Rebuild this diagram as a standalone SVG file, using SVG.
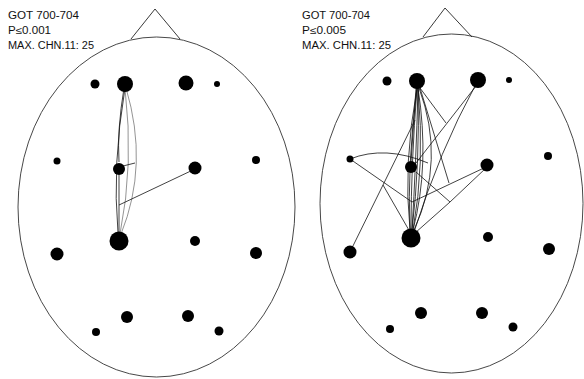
<svg xmlns="http://www.w3.org/2000/svg" width="584" height="379" viewBox="0 0 584 379">
<style>
.bg{fill:#fff}
.head{fill:none;stroke:#333;stroke-width:0.9}
.nose{fill:none;stroke:#222;stroke-width:0.9}
.lbl{font-family:"Liberation Sans",Arial,sans-serif;font-size:10px;fill:#111}
.e{fill:#000}
.c{fill:none;stroke:#111;stroke-width:0.8}
.cl{fill:none;stroke:#666;stroke-width:0.7}
</style>
<rect class="bg" width="584" height="379"/>
<!-- left map -->
<g id="head-left">
<ellipse class="head" cx="156.5" cy="207" rx="138.5" ry="170"/>
<polyline class="nose" points="131,39 155,9 180,39"/>
</g>
<g id="title-left">
<text class="lbl" x="8" y="19" textLength="71" lengthAdjust="spacingAndGlyphs">GOT 700-704</text>
<text class="lbl" x="8" y="34" textLength="43" lengthAdjust="spacingAndGlyphs">P≤0.001</text>
<text class="lbl" x="8" y="49" textLength="86" lengthAdjust="spacingAndGlyphs">MAX. CHN.11: 25</text>
</g>
<g id="connectors-left">
<path class="cl" d="M126,88 Q149,165 121,234"/>
<path class="cl" d="M125,88 Q134,165 120,234"/>
<path class="c" d="M124,88 Q117,130 119,162"/>
<path class="c" d="M125,88 Q112,165 118,233"/>
<path class="c" d="M119,175 L119,233"/>
<path class="c" d="M119,167 L135,163"/>
<path class="c" d="M195,169 L119,205"/>
</g>
<g id="L-Fp1"><circle class="e" cx="95" cy="84" r="4.5"/></g>
<g id="L-F3"><circle class="e" cx="125" cy="84" r="8"/></g>
<g id="L-F4"><circle class="e" cx="186" cy="83" r="7.5"/></g>
<g id="L-Fp2"><circle class="e" cx="217" cy="84" r="3"/></g>
<g id="L-T3"><circle class="e" cx="57" cy="161" r="3.5"/></g>
<g id="L-C3"><circle class="e" cx="119" cy="169" r="6"/></g>
<g id="L-C4"><circle class="e" cx="195" cy="168" r="6.5"/></g>
<g id="L-T4"><circle class="e" cx="256" cy="160" r="4"/></g>
<g id="L-P3"><circle class="e" cx="119" cy="241" r="9.5"/></g>
<g id="L-P4"><circle class="e" cx="195" cy="241" r="5"/></g>
<g id="L-T5"><circle class="e" cx="57" cy="254" r="6.5"/></g>
<g id="L-T6"><circle class="e" cx="256" cy="253" r="6"/></g>
<g id="L-O1"><circle class="e" cx="127" cy="317" r="6"/></g>
<g id="L-O2"><circle class="e" cx="188" cy="316" r="6"/></g>
<g id="L-Oa"><circle class="e" cx="96" cy="332" r="4"/></g>
<g id="L-Ob"><circle class="e" cx="219" cy="331" r="4.5"/></g>
<!-- right map -->
<g id="head-right">
<ellipse class="head" cx="451.5" cy="203.5" rx="131.5" ry="169.5"/>
<polyline class="nose" points="423,37 445,8 472,37"/>
</g>
<g id="title-right">
<text class="lbl" x="302" y="18.5" textLength="68" lengthAdjust="spacingAndGlyphs">GOT 700-704</text>
<text class="lbl" x="302" y="33.5" textLength="44" lengthAdjust="spacingAndGlyphs">P≤0.005</text>
<text class="lbl" x="302" y="48.5" textLength="89" lengthAdjust="spacingAndGlyphs">MAX. CHN.11: 25</text>
</g>
<g id="connectors-right">
<path class="c" d="M417,88 Q403,165 410,230"/>
<path class="c" d="M417,88 Q407,165 410,230"/>
<path class="c" d="M417,88 Q411,165 411,230"/>
<path class="c" d="M418,88 Q416,165 412,230"/>
<path class="c" d="M418,88 Q420,165 412,230"/>
<path class="c" d="M418,88 Q425,165 413,230"/>
<path class="c" d="M418,88 Q430,165 413,230"/>
<path class="c" d="M419,88 Q446,160 414,230"/>
<path class="c" d="M416,88 L411,162"/>
<path class="c" d="M420,88 L446,123"/>
<path class="c" d="M420,88 L449,183"/>
<path class="c" d="M476,86 L416,163"/>
<path class="c" d="M475,86 Q440,150 414,232"/>
<path class="c" d="M350,159 Q385,145 428,163"/>
<path class="c" d="M350,159 L412,202 L486,167"/>
<path class="c" d="M486,168 L450,202 L415,233"/>
<path class="c" d="M416,172 L450,202"/>
<path class="c" d="M350,252 L415,120"/>
<path class="c" d="M383,185 L410,232"/>
</g>
<g id="R-Fp1"><circle class="e" cx="387" cy="81" r="4.5"/></g>
<g id="R-F3"><circle class="e" cx="417" cy="81" r="8"/></g>
<g id="R-F4"><circle class="e" cx="478" cy="80" r="8"/></g>
<g id="R-Fp2"><circle class="e" cx="509" cy="80" r="3"/></g>
<g id="R-T3"><circle class="e" cx="350" cy="159" r="3.5"/></g>
<g id="R-C3"><circle class="e" cx="411" cy="167" r="6"/></g>
<g id="R-C4"><circle class="e" cx="487" cy="165" r="6.5"/></g>
<g id="R-T4"><circle class="e" cx="548" cy="156" r="4"/></g>
<g id="R-P3"><circle class="e" cx="411" cy="238" r="9.5"/></g>
<g id="R-P4"><circle class="e" cx="488" cy="237" r="5"/></g>
<g id="R-T5"><circle class="e" cx="350" cy="252" r="6.5"/></g>
<g id="R-T6"><circle class="e" cx="549" cy="249" r="6"/></g>
<g id="R-O1"><circle class="e" cx="421" cy="313" r="6"/></g>
<g id="R-O2"><circle class="e" cx="482" cy="313" r="6"/></g>
<g id="R-Oa"><circle class="e" cx="390" cy="329" r="4"/></g>
<g id="R-Ob"><circle class="e" cx="513" cy="327" r="4.5"/></g>
</svg>
